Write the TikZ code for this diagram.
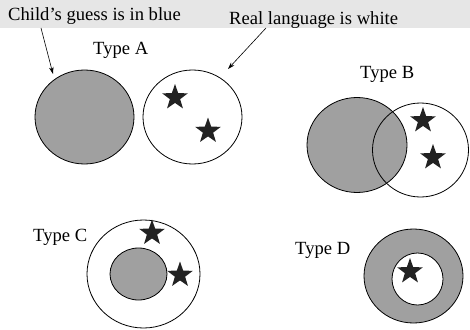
\documentclass[tikz,border=0pt]{standalone}
\usepackage{fontspec}
\setmainfont{Liberation Serif}
\usetikzlibrary{shapes.geometric,arrows.meta}
\definecolor{band}{HTML}{E6E6E6}
\definecolor{guess}{HTML}{A0A0A0}
\definecolor{starc}{HTML}{222222}
\tikzset{
  lbl/.style={font=\fontsize{18.6}{20}\selectfont, anchor=base west, inner sep=0pt},
  circ/.style={ellipse, draw=black, line width=0.8pt, inner sep=0pt},
  gcirc/.style={circ, fill=guess},
  wcirc/.style={circ, fill=white},
  starmark/.style={star, star points=5, star point ratio=2.5, fill=starc, inner sep=0pt, minimum size=27pt},
  pointer/.style={line width=0.6pt, -{Stealth[length=7pt,width=4.5pt]}}
}
\begin{document}
\begin{tikzpicture}[x=1pt,y=-1pt]
\useasboundingbox (0,0) rectangle (470,329);
\fill[band] (0,0) rectangle (470,28);
\node[lbl] (t1) at (8,20.5) {Child’s guess is in blue};
\node[lbl] (t2) at (229,25) {Real language is white};
% Type A
\node[lbl] (ta) at (93,55) {Type A};
\node[gcirc, minimum width=99pt, minimum height=94pt] (a1) at (84.5,117) {};
\node[wcirc, minimum width=99pt, minimum height=94pt] (a2) at (192.5,117) {};
\node[starmark] (as1) at (175,97.5) {};
\node[starmark] (as2) at (208,131) {};
\coordinate (p1s) at (41,28);
\coordinate (p1e) at (53,74);
\coordinate (p2s) at (266,28);
\coordinate (p2e) at (228,69);
\draw[pointer] (p1s) -- (p1e);
\draw[pointer] (p2s) -- (p2e);
% Type B
\node[lbl] (tb) at (360,78) {Type B};
\node[gcirc, minimum width=100pt, minimum height=95pt] (b1) at (357,145) {};
\node[circ, minimum width=96pt, minimum height=94pt] (b2) at (420.5,150) {};
\node[starmark] (bs1) at (423,120.5) {};
\node[starmark] (bs2) at (433,157.5) {};
% Type C
\node[lbl] (tc) at (33,241) {Type C};
\node[wcirc, minimum width=113pt, minimum height=108pt] (c1) at (143.5,274) {};
\node[gcirc, minimum width=57pt, minimum height=52pt] (c2) at (138.5,274) {};
\node[starmark] (cs1) at (152,233) {};
\node[starmark] (cs2) at (180,275) {};
% Type D
\node[lbl] (td) at (295,254) {Type D};
\node[gcirc, minimum width=99pt, minimum height=94pt] (d1) at (413.5,276) {};
\node[wcirc, minimum width=51pt, minimum height=52pt] (d2) at (417.5,279) {};
\node[starmark] (ds1) at (410,271.5) {};
\end{tikzpicture}
\end{document}
